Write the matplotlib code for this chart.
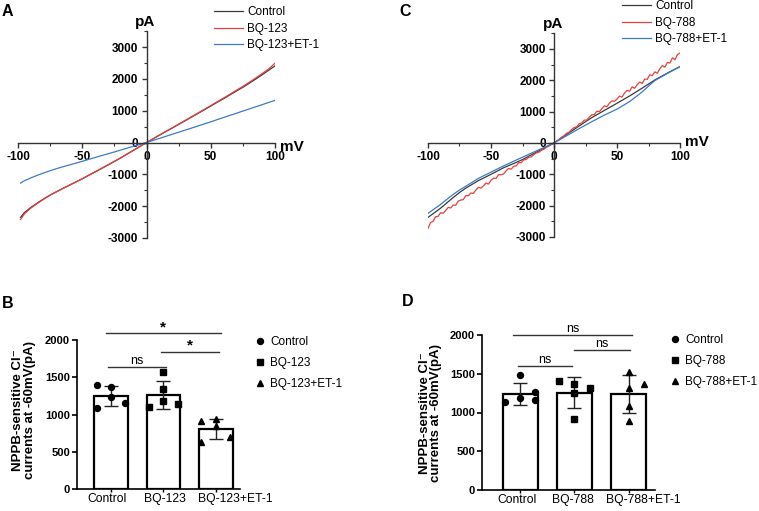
import matplotlib
matplotlib.use("Agg")
import matplotlib.pyplot as plt
from matplotlib.lines import Line2D
from matplotlib.ticker import MultipleLocator
import matplotlib.transforms as mtrans

plt.rcParams['font.family'] = ['Liberation Sans', 'DejaVu Sans']
plt.rcParams['axes.unicode_minus'] = False

# ---------------- data ----------------
# Panel A (I-V curves, mV -> pA)
A_v = [-98, -95, -90, -85, -80, -75, -70, -65, -60, -55, -50, -45, -40, -35, -30, -25, -20, -15, -10, -5,
       0, 5, 10, 15, 20, 25, 30, 35, 40, 45, 50, 55, 60, 65, 70, 75, 80, 85, 90, 95, 100]
A_control = [-2350, -2200, -2040, -1900, -1770, -1650, -1545, -1440, -1340, -1240, -1140, -1030, -925, -815,
             -705, -595, -480, -360, -240, -120, 0, 115, 230, 345, 455, 570, 685, 800, 915, 1030, 1147,
             1265, 1380, 1500, 1620, 1737, 1865, 1995, 2130, 2270, 2410]
A_bq123 = [-2420, -2240, -2060, -1915, -1780, -1655, -1548, -1442, -1340, -1238, -1137, -1028, -922, -812,
           -702, -592, -478, -358, -238, -118, 0, 117, 233, 350, 462, 578, 694, 810, 927, 1044, 1162,
           1282, 1400, 1522, 1645, 1765, 1895, 2030, 2168, 2310, 2495]
A_bq123_et1 = [-1274, -1200, -1110, -1030, -955, -885, -820, -760, -705, -648, -590, -530, -470, -410,
               -355, -295, -235, -175, -115, -58, 0, 65, 130, 195, 260, 325, 390, 455, 520, 585, 652,
               720, 787, 855, 922, 990, 1057, 1124, 1191, 1259, 1326]

# Panel C
C_v = [-100, -90, -80, -75, -70, -60, -50, -40, -30, -25, -20, -10, 0,
       10, 20, 30, 40, 50, 60, 70, 76, 80, 90, 100]
C_control = [-2375, -2080, -1740, -1580, -1440, -1200, -1000, -790, -620, -530, -420, -210, 0,
             270, 545, 810, 1040, 1268, 1500, 1750, 1907, 2010, 2230, 2438]
C_bq788_et1 = [-2246, -1960, -1640, -1500, -1380, -1130, -930, -730, -545, -455, -360, -180, 0,
               230, 460, 680, 890, 1080, 1320, 1630, 1850, 1990, 2220, 2438]
C_red_v = list(range(-100, 101, 2))
C_bq788 = [-2725, -2540, -2500, -2355, -2340, -2225, -2245, -2155, -2055, -2075, -1980, -1985, -1855,
           -1820, -1810, -1680, -1685, -1595, -1610, -1500, -1415, -1440, -1370, -1280, -1310, -1190,
           -1125, -1130, -1010, -1015, -990, -885, -815, -835, -745, -730, -625, -630, -540, -525,
           -455, -445, -370, -315, -295, -235, -200, -137, -100, -46, 0,
           61, 112, 186, 233, 308, 344, 429, 492, 515, 613, 635, 730, 730, 825, 900, 900, 1015, 1000,
           1095, 1185, 1157, 1269, 1346, 1328, 1405, 1495, 1465, 1595, 1675, 1650, 1790, 1745, 1860,
           1945, 1900, 2040, 2030, 2180, 2150, 2270, 2225, 2370, 2470, 2420, 2570, 2550, 2720, 2655,
           2820, 2870]

# Panel B (bars)
B_groups = ['Control', 'BQ-123', 'BQ-123+ET-1']
B_means = [1250, 1265, 810]
B_sd = [128, 188, 130]
B_points = [[1400, 1373, 1235, 1095, 1162],
            [1570, 1342, 1185, 1109, 1141],
            [921, 947, 850, 639, 706]]
B_sig = [(-0.1, 2.1, 2088, '*'), (0.95, 2.05, 1843, '*'), (-0.06, 1.05, 1641, 'ns')]

# Panel D (bars)
D_groups = ['Control', 'BQ-788', 'BQ-788+ET-1']
D_means = [1245, 1255, 1240]
D_sd = [142, 200, 250]
D_points = [[1137, 1489, 1189, 1266, 1159],
            [1408, 1373, 1253, 914, 1322],
            [1524, 1318, 1082, 893, 1373]]
D_sig = [(-0.13, 2.06, 2003, 'ns'), (1.0, 2.02, 1806, 'ns'), (-0.04, 0.96, 1603, 'ns')]

# layout-only: horizontal offsets of scatter points (in units of bar spacing)
B_offsets = [[-1, 0, 0, -1, 1], [0, 0, 0, -1, 1], [-1, 0, 0, -1, 1]]
D_offsets = [[-1, 0, 0, 1, 1], [-1, 0, 0, 0, 1], [0, 0, 0, 0, 1]]

# ---------------- figure ----------------
W, H = 759, 511
fig = plt.figure(figsize=(W / 100, H / 100), dpi=100)


def fr(l, t, r, b):
    return [l / W, 1 - b / H, (r - l) / W, (b - t) / H]


COL_K = '#3a3a3a'
COL_R = '#e8403c'
COL_B = '#3c7bc8'


def iv_axes(rect, series, names, leg_anchor, mv_dy):
    ax = fig.add_axes(rect)
    for (xs, ys), col, nm in zip(series, [COL_K, COL_R, COL_B], names):
        ax.plot(xs, ys, color=col, lw=0.9, label=nm)
    ax.set_xlim(-100, 100)
    ax.set_ylim(-3000, 3500)
    for s in ['top', 'right']:
        ax.spines[s].set_visible(False)
    ax.spines['left'].set_position(('data', 0))
    ax.spines['bottom'].set_position(('data', 0))
    for s in ['left', 'bottom']:
        ax.spines[s].set_linewidth(1.0)
        ax.spines[s].set_color('#333333')
    ax.set_xticks([-100, -50, 0, 50, 100])
    ax.set_xticklabels(['-100', '-50', '0', '50', '100'])
    ax.xaxis.set_minor_locator(MultipleLocator(25))
    ax.set_yticks([-3000, -2000, -1000, 0, 1000, 2000, 3000])
    ax.set_yticklabels(['-3000', '-2000', '-1000', '0', '1000', '2000', '3000'])
    ax.yaxis.set_minor_locator(MultipleLocator(500))
    ax.tick_params(which='major', length=3.5, width=1.0, color='#333333', pad=2.5,
                   labelsize=8.5)
    ax.tick_params(which='minor', length=2.2, width=0.8, color='#333333')
    for lab in ax.get_xticklabels() + ax.get_yticklabels():
        lab.set_fontweight('bold')
    ax.text(-1, 3800, 'pA', ha='center', va='center', fontsize=11, fontweight='bold')
    ax.text(104, mv_dy, 'mV', ha='left', va='center', fontsize=11, fontweight='bold',
            clip_on=False)
    ax.legend(loc='upper left', bbox_to_anchor=leg_anchor, bbox_transform=fig.transFigure,
              frameon=False, fontsize=8.5, handlelength=2.45, handletextpad=0.35,
              labelspacing=0.4, borderpad=0, borderaxespad=0)
    return ax


axA = iv_axes(fr(18, 31.2, 275, 238),
              [(A_v, A_control), (A_v, A_bq123), (A_v, A_bq123_et1)],
              ['Control', 'BQ-123', 'BQ-123+ET-1'], (214 / W, 1 - 6 / H), -150)
axC = iv_axes(fr(428, 33.3, 680, 237),
              [(C_v, C_control), (C_red_v, C_bq788), (C_v, C_bq788_et1)],
              ['Control', 'BQ-788', 'BQ-788+ET-1'], (622 / W, 1 - 0 / H), 30)


def bar_axes(rect, groups, means, sd, points, offsets, sig, xlim, label_pos, leg_anchor, off,
             lab_shift):
    ax = fig.add_axes(rect)
    x = list(range(len(groups)))
    ax.bar(x, means, width=0.645, color='white', edgecolor='black', linewidth=1.6, zorder=1)
    ax.errorbar(x, means, yerr=sd, fmt='none', ecolor='#222222', elinewidth=1.0,
                capsize=5.2, capthick=1.0, zorder=3)
    markers = ['o', 's', '^']
    for i, (pts, offs) in enumerate(zip(points, offsets)):
        xs = [i + o * off for o in offs]
        ax.plot(xs, pts, linestyle='none', marker=markers[i], ms=4.3, color='black',
                zorder=4, clip_on=False)
    ax.set_xlim(*xlim)
    ax.set_ylim(0, 2000)
    ax.set_yticks([0, 500, 1000, 1500, 2000])
    for s in ['top', 'right']:
        ax.spines[s].set_visible(False)
    for s in ['left', 'bottom']:
        ax.spines[s].set_linewidth(1.2)
    ax.set_xticks(x)
    ax.set_xticklabels([])
    base = mtrans.blended_transform_factory(ax.transData, ax.transAxes)
    for xi, g, dx in zip(x, groups, lab_shift):
        t = base + mtrans.ScaledTranslation(dx / 100, -4 / 100, fig.dpi_scale_trans)
        ax.text(xi, 0, g, transform=t, ha='center', va='top', fontsize=8.7, clip_on=False)
    ax.tick_params(axis='y', length=3.5, width=1.2, pad=1.5, labelsize=8)
    ax.tick_params(axis='x', length=2.5, width=1.0, pad=2)
    for lab in ax.get_yticklabels():
        lab.set_fontweight('bold')
    ax.text(label_pos[0], label_pos[1], 'NPPB-sensitive Cl\u207b\ncurrents at -60mV(pA)',
            transform=ax.transAxes, rotation=90, ha='center', va='center',
            multialignment='center', fontsize=9.5, fontweight='bold', linespacing=0.9)
    tr = mtrans.offset_copy(ax.transData, fig=fig, y=4.5, units='points')
    for x0, x1, y, s in sig:
        ax.plot([x0, x1], [y, y], color='#333333', lw=1.0, clip_on=False, zorder=2)
        if s == '*':
            ax.text((x0 + x1) / 2, y, s, transform=tr, ha='center', va='center',
                    fontsize=11, fontweight='bold', clip_on=False)
        else:
            ax.text((x0 + x1) / 2, y, s, transform=tr, ha='center', va='center',
                    fontsize=9, clip_on=False)
    handles = [Line2D([], [], linestyle='none', marker=m, ms=4.3, color='black')
               for m in markers]
    ax.legend(handles, groups, loc='upper left', bbox_to_anchor=leg_anchor,
              bbox_transform=fig.transFigure, frameon=False, fontsize=8.5,
              handlelength=0.7, handletextpad=0.5, labelspacing=0.75, borderpad=0,
              borderaxespad=0)
    return ax


axB = bar_axes(fr(77, 340, 240, 489.3), B_groups, B_means, B_sd, B_points, B_offsets,
               B_sig, (-0.649, 2.46), (-0.325, 0.53), (256 / W, 1 - 336 / H), 0.275,
               [-4, 1, 19])
axD = bar_axes(fr(482, 335, 655, 490), D_groups, D_means, D_sd, D_points, D_offsets,
               D_sig, (-0.70, 2.48), (-0.30, 0.497), (671 / W, 1 - 334 / H), 0.28,
               [-3, -2, 14])

for s, (px, py) in zip('ABCD', [(2, 12), (2, 303), (399, 12), (402, 302)]):
    fig.text(px / W, 1 - py / H, s, ha='left', va='center', fontsize=11.5, fontweight='bold')

fig.savefig('out.png', dpi=100)
